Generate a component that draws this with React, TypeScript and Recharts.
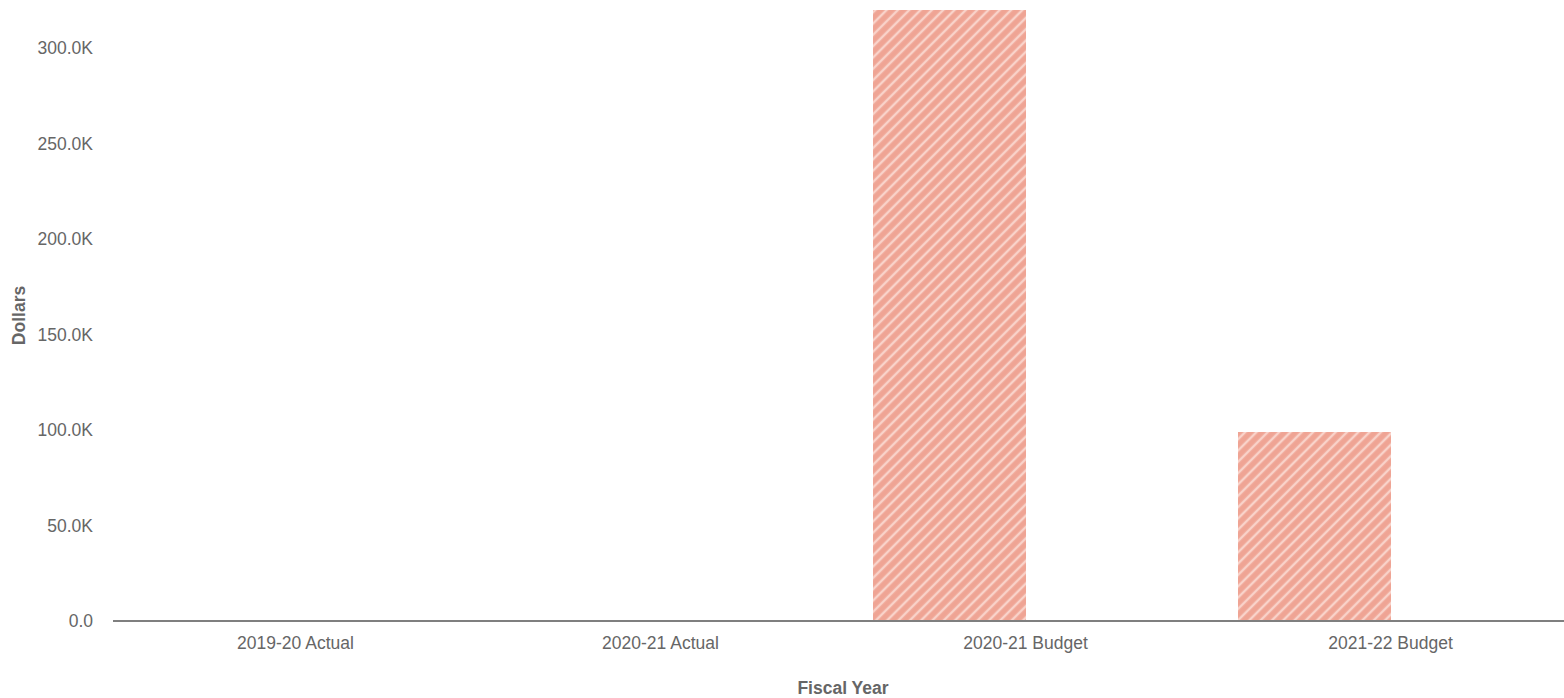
import { BarChart, Bar, XAxis, YAxis, Label } from 'recharts';

const categories = ['2019-20 Actual', '2020-21 Actual', '2020-21 Budget', '2021-22 Budget'];
const budgetValues = [null, null, 320000, 99000];
const actualValues = [null, null, null, null];
const yTicks = [0, 50000, 100000, 150000, 200000, 250000, 300000];

const data = categories.map((name, i) => ({
  name,
  budget: budgetValues[i],
  actual: actualValues[i],
}));

const formatDollars = (v: number) => (v === 0 ? '0.0' : `${(v / 1000).toFixed(1)}K`);

const FONT = '"Liberation Sans", Arial, sans-serif';
const FS = 17.5;

// the source chart runs a little past the right edge of the picture
const YTitle = (props: any) => {
  const vb = props.viewBox;
  const x = 19;
  const y = vb.y + vb.height / 2;
  return (
    <text
      x={x}
      y={y}
      transform={`rotate(-90, ${x}, ${y})`}
      textAnchor="middle"
      dominantBaseline="central"
      fontSize={FS}
      fontWeight="bold"
      fill="#666"
      fontFamily={FONT}
    >
      Dollars
    </text>
  );
};

export default function App() {
  return (
    <div style={{ position: 'absolute', left: 0, top: 0, width: 1564, height: 698, overflow: 'hidden', fontFamily: FONT }}>
      <BarChart
        width={1573}
        height={698}
        data={data}
        margin={{ top: 10, right: 0, bottom: 0, left: 0 }}
        barGap={0}
        barSize={153}
      >
        <defs>
          <pattern id="stripes" width="8" height="8" patternUnits="userSpaceOnUse" patternTransform="rotate(45)">
            <rect width="8" height="8" fill="#EFA494" />
            <line x1="2" y1="0" x2="2" y2="8" stroke="#F9D3CA" strokeWidth="2.5" />
          </pattern>
        </defs>
        <XAxis
          dataKey="name"
          height={77}
          tickLine={false}
          tickSize={6}
          tickMargin={10}
          axisLine={{ stroke: '#7f7f7f', strokeWidth: 2 }}
          tick={{ fill: '#666', fontSize: FS, fontFamily: FONT }}
        >
          <Label
            value="Fiscal Year"
            position="insideBottom"
            offset={4}
            style={{ fill: '#666', fontSize: FS, fontWeight: 'bold', fontFamily: FONT }}
          />
        </XAxis>
        <YAxis
          width={113}
          domain={[0, 320000]}
          ticks={yTicks}
          tickFormatter={formatDollars}
          axisLine={false}
          tickLine={false}
          tickSize={8}
          tickMargin={12}
          tick={{ fill: '#666', fontSize: FS, fontFamily: FONT }}
        >
          <Label content={<YTitle />} />
        </YAxis>
        <Bar dataKey="budget" fill="url(#stripes)" isAnimationActive={false} />
        <Bar dataKey="actual" fill="#7f7f7f" isAnimationActive={false} />
      </BarChart>
    </div>
  );
}
